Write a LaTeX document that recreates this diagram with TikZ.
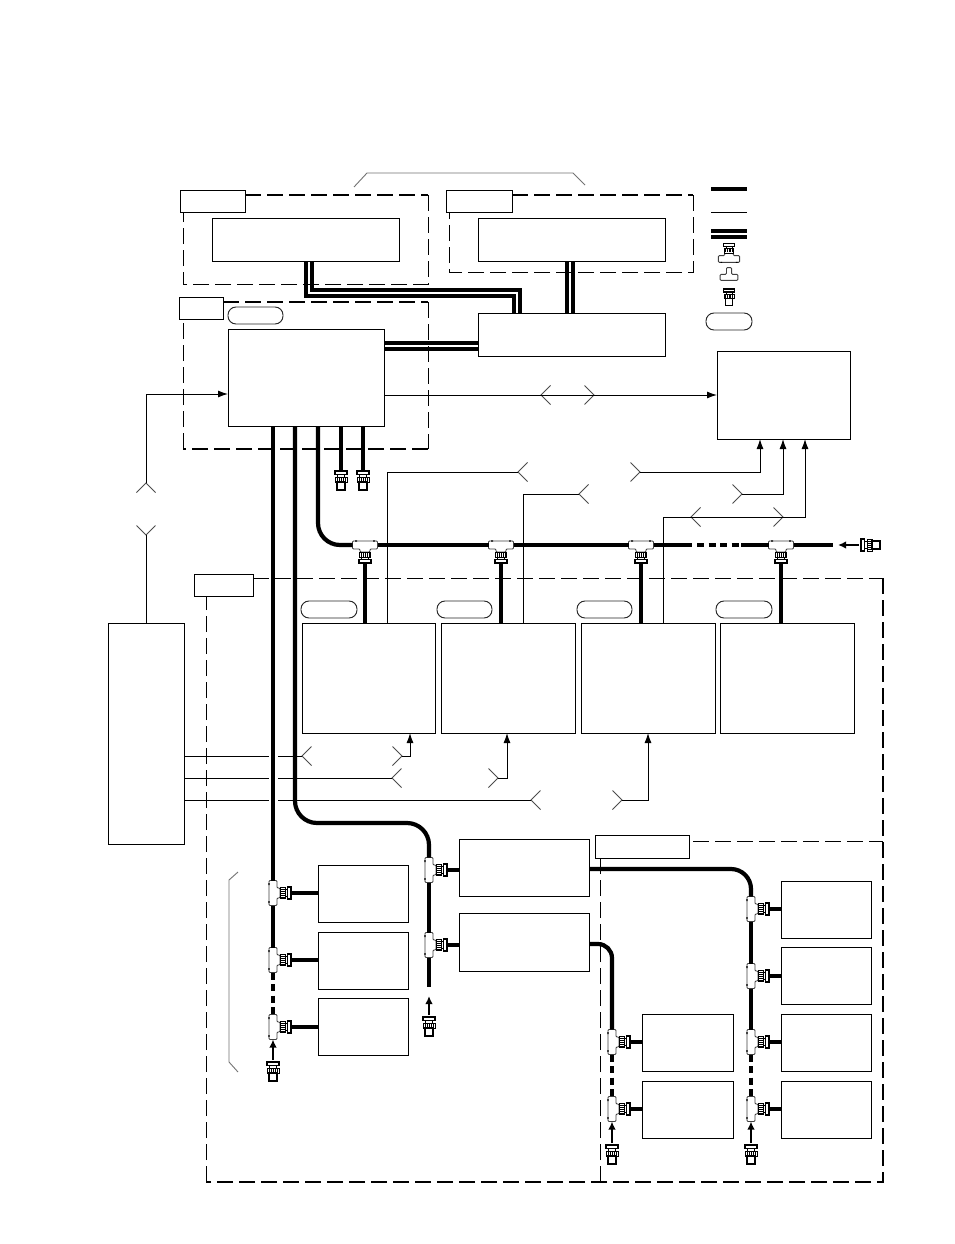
\documentclass[tikz,border=0pt]{standalone}
\usetikzlibrary{arrows.meta,calc}
% coupling collar, knurl and flange of a BNC fitting on a T adapter
\newcommand\bncparts{%
  \draw[black,line width=.7pt,fill=white] (-5.5,7) rectangle (5.5,12.5);
  \foreach \r in {-4,-2,...,4} \draw[black,line width=1pt] (\r,8) -- (\r,12);
  \draw[black,line width=.7pt,fill=white] (-3.5,12.5) rectangle (3.5,14.5);
  \draw[black,line width=1.1pt,fill=white] (-6,14.5) rectangle (6,18);
}
\tikzset{
  blockbox/.style={draw=black,fill=white,line width=.95pt,inner sep=0pt,outer sep=0pt,rectangle},
  tagbox/.style={draw=black,fill=white,line width=1pt,inner sep=0pt,outer sep=0pt,rectangle},
  pillbox/.style={draw=black!85,fill=white,line width=.95pt,inner sep=0pt,outer sep=0pt,rectangle,rounded corners=8pt},
  wire/.style={draw=black,line width=1pt,line join=miter},
  cable/.style={draw=black,line width=4.2pt},
  cabledash/.style={draw=black,line width=4.2pt,dash pattern=on 7pt off 4.5pt},
  busline/.style={draw=black,line width=4pt},
  feed/.style={draw=black,line width=2.4pt,-{Latex[length=8pt,width=7.5pt]}},
  sigarrow/.style={wire,-{Latex[length=10pt,width=7pt]}},
  chevronline/.style={draw=black!70,line width=.9pt},
  bracket/.style={draw=black!55,line width=.9pt},
  zoneline/.style={draw=black,dash pattern=on 16pt off 6pt},
  tee/.pic={
    \draw[black!75,line width=.9pt,fill=white,rounded corners=1pt]
      (-12.5,-4) -- (12.5,-4) -- (12.5,4) -- (5,4) -- (5,7) -- (-5,7) -- (-5,4) -- (-12.5,4) -- cycle;
    \fill[black] (-10,-4.6) rectangle (-8,-3.4) (8,-4.6) rectangle (10,-3.4);
    \bncparts
    \coordinate (-w) at (-12.5,0);
    \coordinate (-e) at (12.5,0);
    \coordinate (-s) at (0,18);
  },
  plainTee/.pic={
    \draw[black!75,line width=.9pt,fill=white,rounded corners=1pt]
      (-10.5,4) -- (-3,4) -- (-3,-4) -- (3,-4) -- (3,4) -- (10.5,4) -- (10.5,11) -- (-10.5,11) -- cycle;
  },
  bncplug/.pic={
    \draw[black,line width=1.1pt,fill=white] (-6,0) rectangle (6,3.5);
    \draw[black,line width=.7pt,fill=white] (-3.5,3.5) rectangle (3.5,6);
    \draw[black,line width=.7pt,fill=white] (-6,6) rectangle (6,11);
    \foreach \r in {-4,-2,...,4} \draw[black,line width=1pt] (\r,6.5) -- (\r,10.5);
    \draw[black,line width=1.2pt,fill=white] (-4,11) rectangle (4,19);
    \coordinate (-t) at (0,0);
    \coordinate (-n) at (0,-2);
  },
}
% rectangular block given by its corners
\newcommand\blk[6][blockbox]{%
  \node[#1,minimum width={(#5-#3)*1pt},minimum height={(#6-#4)*1pt}] (#2) at ({(#3+#5)/2},{(#4+#6)/2}) {};}
% open chevrons that mark a broken signal line
\newcommand\chevH[4]{\coordinate (#1) at (#2,#3);
  \draw[chevronline] ($(#1)+(#4,-9.5)$) -- (#1) -- ($(#1)+(#4,9.5)$);}
\newcommand\chevV[4]{\coordinate (#1) at (#2,#3);
  \draw[chevronline] ($(#1)+(-9.5,#4)$) -- (#1) -- ($(#1)+(9.5,#4)$);}
\begin{document}
\begin{tikzpicture}[x=1pt,y=-1pt]
\useasboundingbox (0,0) rectangle (954,1244);
\fill[white] (0,0) rectangle (954,1244);

% dashed enclosures
\draw[zoneline,line width=2pt] (245,195) -- (428,195);
\draw[zoneline,line width=1pt] (428,195) -- (428,284) -- (183,284) -- (183,212);
\draw[zoneline,line width=2pt] (512,195) -- (693,195);
\draw[zoneline,line width=1pt] (693,195) -- (693,272) -- (449,272) -- (449,212);
\draw[zoneline,line width=2pt] (223,302) -- (428,302);
\draw[zoneline,line width=1pt] (428,302) -- (428,449);
\draw[zoneline,line width=2pt] (428,449) -- (183,449);
\draw[zoneline,line width=1pt] (183,449) -- (183,319);
\draw[zoneline,line width=1pt] (253,578) -- (883,578);
\draw[zoneline,line width=2pt] (883,578) -- (883,1182) -- (206,1182);
\draw[zoneline,line width=1pt] (206,1182) -- (206,596);
\draw[zoneline,line width=1pt] (693,841) -- (883,841);
\draw[zoneline,line width=1pt] (600,1182) -- (600,858);

% brackets
\draw[bracket] (354,187) -- (367,173) -- (573,173) -- (585,185);
\draw[bracket] (238,872) -- (229,880) -- (229,1062) -- (238,1072);

% tags
\blk[tagbox]{tagA}{180}{190}{245}{212}
\blk[tagbox]{tagB}{446}{190}{512}{212}
\blk[tagbox]{tagC}{179}{297}{223}{319}
\blk[tagbox]{tagD}{194}{574}{253}{596}
\blk[tagbox]{tagE}{595}{835}{689}{858}

% pills
\blk[pillbox]{pillM}{228}{307}{283}{324}
\blk[pillbox]{pillA}{301}{601}{357}{618}
\blk[pillbox]{pillB}{437}{601}{492}{618}
\blk[pillbox]{pillC}{577}{601}{632}{618}
\blk[pillbox]{pillD}{716}{601}{772}{618}
\blk[pillbox]{pillK}{706}{313}{752}{330}

% blocks
\blk{topL}{212}{218}{399}{261}
\blk{topR}{478}{218}{665}{261}
\blk{ctrl}{228}{329}{384}{426}
\blk{mid}{478}{313}{665}{356}
\blk{right}{717}{351}{850}{439}
\blk{src}{108}{623}{184}{844}
\blk{unitA}{302}{623}{435}{733}
\blk{unitB}{441}{623}{575}{733}
\blk{unitC}{581}{623}{715}{733}
\blk{unitD}{720}{623}{854}{733}
\blk{procA}{459}{839}{589}{896}
\blk{procB}{459}{913}{589}{971}
\blk{l1}{318}{865}{408}{922}
\blk{l2}{318}{932}{408}{989}
\blk{l3}{318}{998}{408}{1055}
\blk{m1}{642}{1014}{733}{1071}
\blk{m2}{642}{1081}{733}{1138}
\blk{r1}{781}{881}{871}{938}
\blk{r2}{781}{947}{871}{1004}
\blk{r3}{781}{1014}{871}{1071}
\blk{r4}{781}{1081}{871}{1138}

% signal wiring with broken-line chevrons
\chevV{apA}{146}{483}{9.5}
\chevV{apB}{146}{535}{-9.5}
\draw[sigarrow] (apA) -- (146,394) -- (ctrl.west |- 0,394);
\draw[wire] (src.north -| apB) -- (apB);

\chevH{a1}{541}{395}{9.5}
\chevH{a2}{594}{395}{-9.5}
\draw[sigarrow] (ctrl.east |- a1) -- (right.west |- a2);

\chevH{b1}{518}{472}{9.5}
\chevH{b2}{640}{472}{-9.5}
\draw[wire] (unitA.north -| 387,0) -- (387,472) -- (b1);
\draw[sigarrow] (b2) -- (760,472) -- (right.south -| 760,0);

\chevH{c1}{579}{494}{9.5}
\chevH{c2}{742}{494}{-9.5}
\draw[wire] (unitB.north -| 523,0) -- (523,494) -- (c1);
\draw[sigarrow] (c2) -- (783,494) -- (right.south -| 783,0);

\chevH{d1}{691}{517}{9.5}
\chevH{d2}{783}{517}{-9.5}
\draw[sigarrow] (unitC.north -| 663,0) -- (663,517) -- (805,517) -- (right.south -| 805,0);

\chevH{e1}{302}{756}{9.5}
\chevH{e2}{402}{756}{-9.5}
\draw[wire] (src.east |- e1) -- (e1);
\draw[sigarrow] (e2) -- (410,756) -- (unitA.south -| 410,0);

\chevH{f1}{392}{778}{9.5}
\chevH{f2}{498}{778}{-9.5}
\draw[wire] (src.east |- f1) -- (f1);
\draw[sigarrow] (f2) -- (507,778) -- (unitB.south -| 507,0);

\chevH{g1}{531}{800}{9.5}
\chevH{g2}{622}{800}{-9.5}
\draw[wire] (src.east |- g1) -- (g1);
\draw[sigarrow] (g2) -- (648,800) -- (unitC.south -| 648,0);

% clearance where the signal wires pass the cable
\draw[white,line width=9pt] (273,750) -- (273,806);

% T adapters on the horizontal bus
\pic (ta) at (365,545) {tee};
\pic (tb) at (501,545) {tee};
\pic (tc) at (641,545) {tee};
\pic (td) at (781,545) {tee};

% T adapters on the vertical runs
\pic (u1) [rotate=90] at (273,893) {tee};
\pic (u2) [rotate=90] at (273,960) {tee};
\pic (u3) [rotate=90] at (273,1027) {tee};
\pic (v1) [rotate=90] at (429,870) {tee};
\pic (v2) [rotate=90] at (429,945) {tee};
\pic (x1) [rotate=90] at (612,1042) {tee};
\pic (x2) [rotate=90] at (612,1109) {tee};
\pic (y1) [rotate=90] at (751,909) {tee};
\pic (y2) [rotate=90] at (751,976) {tee};
\pic (y3) [rotate=90] at (751,1042) {tee};
\pic (y4) [rotate=90] at (751,1109) {tee};

% loose BNC plugs
\pic (p1) at (341,471) {bncplug};
\pic (p2) at (363,471) {bncplug};
\pic (p3) at (273,1062) {bncplug};
\pic (p4) at (429,1017) {bncplug};
\pic (p5) at (612,1145) {bncplug};
\pic (p6) at (751,1145) {bncplug};
\pic (p7) [rotate=90] at (861,545) {bncplug};

% double ribbon links
\draw[busline] (topL.south -| 306,0) -- (306,296) -- (514,296) -- (mid.north -| 514,0);
\draw[busline] (topL.south -| 312,0) -- (312,290) -- (520,290) -- (mid.north -| 520,0);
\draw[busline] (topR.south -| 567,0) -- (mid.north -| 567,0);
\draw[busline] (topR.south -| 573,0) -- (mid.north -| 573,0);
\draw[busline] (ctrl.east |- 0,343) -- (mid.west |- 0,343);
\draw[busline] (ctrl.east |- 0,349) -- (mid.west |- 0,349);

% coaxial cables
\draw[cable] (ctrl.south -| p1-t) -- (p1-t);
\draw[cable] (ctrl.south -| p2-t) -- (p2-t);
\draw[cable,rounded corners=22pt] (ctrl.south -| 318,0) -- (318,545) -- (ta-w);
\draw[cable] (ta-e) -- (tb-w);
\draw[cable] (tb-e) -- (tc-w);
\draw[cable] (tc-e) -- (692,545);
\draw[cabledash] (697,545) -- (741,545);
\draw[cable] (741,545) -- (td-w);
\draw[cable] (td-e) -- (833,545);
\draw[feed] (p7-n) -- (838,545);
\draw[cable] (ta-s) -- (unitA.north -| ta-s);
\draw[cable] (tb-s) -- (unitB.north -| tb-s);
\draw[cable] (tc-s) -- (unitC.north -| tc-s);
\draw[cable] (td-s) -- (unitD.north -| td-s);

\draw[cable] (ctrl.south -| u1-e) -- (u1-e);
\draw[cable] (u1-w) -- (u2-e);
\draw[cabledash] (u2-w) -- (u3-e);
\draw[feed] (p3-n) -- (u3-w);
\draw[cable] (u1-s) -- (l1.west |- u1-s);
\draw[cable] (u2-s) -- (l2.west |- u2-s);
\draw[cable] (u3-s) -- (l3.west |- u3-s);

\draw[cable,rounded corners=22pt] (ctrl.south -| 295,0) -- (295,823) -- (429,823) -- (v1-e);
\draw[cable] (v1-w) -- (v2-e);
\draw[cable] (v2-w) -- (429,987);
\draw[feed] (p4-n) -- (429,996);
\draw[cable] (v1-s) -- (procA.west |- v1-s);
\draw[cable] (v2-s) -- (procB.west |- v2-s);

\draw[cable,rounded corners=20pt] (procA.east |- 0,869) -- (751,869) -- (y1-e);
\draw[cable] (y1-w) -- (y2-e);
\draw[cable] (y2-w) -- (y3-e);
\draw[cabledash] (y3-w) -- (y4-e);
\draw[feed] (p6-n) -- (y4-w);
\draw[cable] (y1-s) -- (r1.west |- y1-s);
\draw[cable] (y2-s) -- (r2.west |- y2-s);
\draw[cable] (y3-s) -- (r3.west |- y3-s);
\draw[cable] (y4-s) -- (r4.west |- y4-s);

\draw[cable,rounded corners=14pt] (procB.east |- 0,944) -- (612,944) -- (x1-e);
\draw[cabledash] (x1-w) -- (x2-e);
\draw[feed] (p5-n) -- (x2-w);
\draw[cable] (x1-s) -- (m1.west |- x1-s);
\draw[cable] (x2-s) -- (m2.west |- x2-s);

% key
\coordinate (k1) at (711,189);
\coordinate (k2) at (747,189);
\coordinate (k3) at (711,212);
\coordinate (k4) at (747,212);
\coordinate (k5) at (711,231);
\coordinate (k6) at (747,231);
\coordinate (k7) at (711,236.5);
\coordinate (k8) at (747,236.5);
\draw[cable] (k1) -- (k2);
\draw[wire] (k3) -- (k4);
\draw[busline] (k5) -- (k6);
\draw[busline] (k7) -- (k8);
\pic (kt) [rotate=180,scale=.85] at (729,259) {tee};
\pic [scale=.85] at (729,271) {plainTee};
\pic (kp) [scale=.85] at (729,289) {bncplug};
\end{tikzpicture}
\end{document}
